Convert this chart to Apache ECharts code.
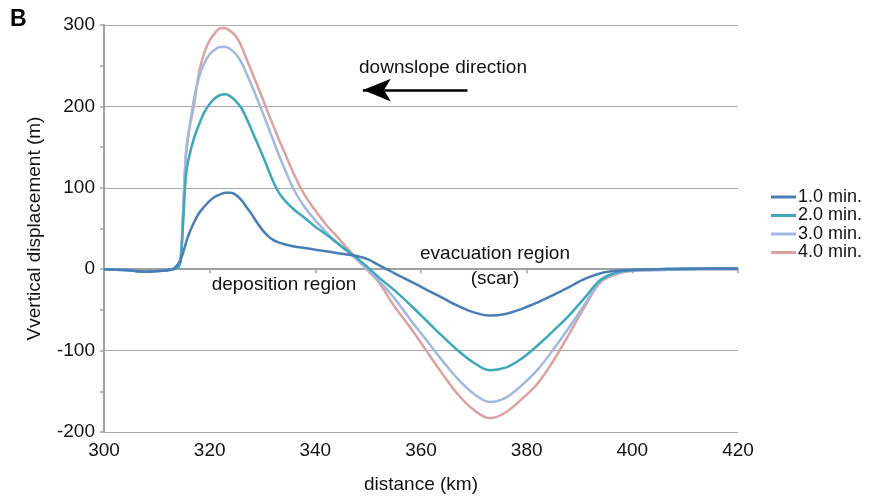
<!DOCTYPE html>
<html>
<head>
<meta charset="utf-8">
<script src="https://cdn.jsdelivr.net/npm/echarts@6/dist/echarts.min.js"></script>
<style>
  html, body { margin: 0; padding: 0; background: #fff; }
  #chart { width: 871px; height: 499px; }
</style>
</head>
<body>
<div id="chart"></div>
<script>
// distance (km)
const distance = [300, 304, 308, 311, 313, 314, 314.5, 315, 315.5, 316, 317, 318, 319, 320, 321, 322, 323, 324, 325, 326, 327, 328, 329, 330, 331, 332, 333, 334, 336, 338, 340, 342, 344, 346, 348, 350, 352, 355, 358, 361, 364, 367, 370, 373, 376, 379, 382, 385, 388, 391, 394, 397, 400, 405, 410, 415, 420];

// vertical displacement (m) per time step
const min1 = [0, -1, -3, -2, 0, 6, 12, 21, 32, 42, 57, 69, 77, 84, 89, 92, 94, 94, 91, 85, 76, 67, 57, 48, 41, 36, 33, 31, 28, 26, 24, 22, 20, 18, 16, 12, 5, -5, -15, -25, -35, -45, -53, -57, -55, -49, -41, -32, -22, -12, -5, -2, -1, 0, 1, 1, 1];
const min2 = [0, -1, -3, -2, 0, 2, 10, 60, 115, 135, 160, 178, 193, 203, 210, 214, 215, 212, 206, 198, 185, 170, 155, 140, 124, 108, 95, 86, 73, 63, 52, 43, 33, 23, 13, 2, -10, -26, -44, -63, -82, -100, -115, -124, -121, -110, -94, -76, -57, -35, -13, -4, -1, 0, 0, 1, 1];
const min3 = [0, -1, -3, -2, 0, 2, 12, 75, 140, 165, 208, 236, 253, 264, 270, 273, 273, 270, 264, 254, 240, 225, 209, 193, 176, 159, 142, 126, 97, 76, 60, 46, 33, 22, 11, -1, -14, -36, -62, -87, -112, -135, -153, -163, -158, -143, -124, -99, -72, -43, -14, -5, -2, -1, 0, 0, 0];
const min4 = [0, -1, -3, -2, 0, 2, 12, 75, 140, 168, 200, 242, 266, 281, 290, 296, 296, 292, 286, 274, 258, 242, 226, 210, 193, 177, 161, 146, 116, 91, 72, 55, 41, 26, 12, -2, -16, -46, -72, -100, -128, -154, -173, -183, -176, -160, -141, -113, -80, -46, -16, -6, -2, -1, 0, 0, 0];

const seriesNames = ['1.0 min.', '2.0 min.', '3.0 min.', '4.0 min.'];
const seriesColors = ['#4a7cb7', '#3ea7ba', '#a2b8df', '#dca2a2'];
const seriesValues = [min1, min2, min3, min4];

const xTicks = { min: 300, max: 420, interval: 20 };
const yTicks = { min: -200, max: 300, interval: 100 };

// arrow endpoints in data units (tail, head)
const arrowFrom = [368.8, 220];
const arrowTo = [349, 220];

const chart = echarts.init(document.getElementById('chart'));
const font = 'Liberation Sans, Arial, sans-serif';

const series = seriesNames.map((name, i) => ({
  name,
  type: 'line',
  data: distance.map((d, k) => [d, seriesValues[i][k]]),
  showSymbol: false,
  smooth: 0.35,
  z: 10 - i,
  lineStyle: { color: seriesColors[i], width: 2.5 },
  itemStyle: { color: seriesColors[i] },
}));

// arrow drawn as a markLine on the first series
series[0].markLine = {
  silent: true,
  symbol: ['none', 'arrow'],
  symbolSize: [17, 28],
  label: { show: false },
  lineStyle: { color: '#000', width: 2.5, type: 'solid' },
  data: [[{ coord: arrowFrom }, { coord: arrowTo }]],
};

const option = {
  animation: false,
  textStyle: { fontFamily: font },
  grid: { left: 104, right: 133, top: 25, bottom: 63 },
  legend: {
    orient: 'vertical',
    left: 766,
    top: 183,
    itemWidth: 25,
    itemHeight: 3,
    itemGap: 0.5,
    icon: 'rect',
    textStyle: { fontSize: 18, color: '#111', fontFamily: font, padding: [0, 0, 0, -3] },
    data: seriesNames,
  },
  xAxis: {
    type: 'value',
    min: xTicks.min,
    max: xTicks.max,
    interval: xTicks.interval,
    name: 'distance (km)',
    nameLocation: 'middle',
    nameGap: 43,
    nameTextStyle: { fontSize: 19, color: '#111' },
    axisLine: { lineStyle: { color: '#a0a0a0', width: 2 } },
    axisTick: { show: true, length: 4, lineStyle: { color: '#a0a0a0', width: 1.5 } },
    axisLabel: { fontSize: 19, color: '#111', margin: 9 },
    splitLine: { show: false },
  },
  yAxis: {
    type: 'value',
    min: yTicks.min,
    max: yTicks.max,
    interval: yTicks.interval,
    name: 'Vvertical displacement (m)',
    nameLocation: 'middle',
    nameGap: 60,
    nameTextStyle: { fontSize: 19, color: '#111' },
    axisLine: { show: true, lineStyle: { color: '#a0a0a0', width: 2 } },
    axisTick: { show: true, length: 4, lineStyle: { color: '#a0a0a0', width: 1.5 } },
    minorTick: { show: true, splitNumber: 2, length: 4, lineStyle: { color: '#a0a0a0', width: 1.5 } },
    axisLabel: { fontSize: 19, color: '#111', margin: 9 },
    splitLine: { show: true, lineStyle: { color: '#aaaaaa', width: 1 } },
  },
  graphic: [
    { type: 'text', left: 10, top: 8, style: { text: 'B', font: 'bold 23px ' + font, fill: '#000' } },
    { type: 'text', x: 443, y: 68, style: { text: 'downslope direction', font: '19px ' + font, fill: '#111', textAlign: 'center', textVerticalAlign: 'middle' } },
    { type: 'text', x: 284, y: 285, style: { text: 'deposition region', font: '19px ' + font, fill: '#111', textAlign: 'center', textVerticalAlign: 'middle' } },
    { type: 'text', x: 495, y: 254, style: { text: 'evacuation region', font: '19px ' + font, fill: '#111', textAlign: 'center', textVerticalAlign: 'middle' } },
    { type: 'text', x: 495, y: 279, style: { text: '(scar)', font: '19px ' + font, fill: '#111', textAlign: 'center', textVerticalAlign: 'middle' } },
  ],
  series,
};

chart.setOption(option);
</script>
</body>
</html>
